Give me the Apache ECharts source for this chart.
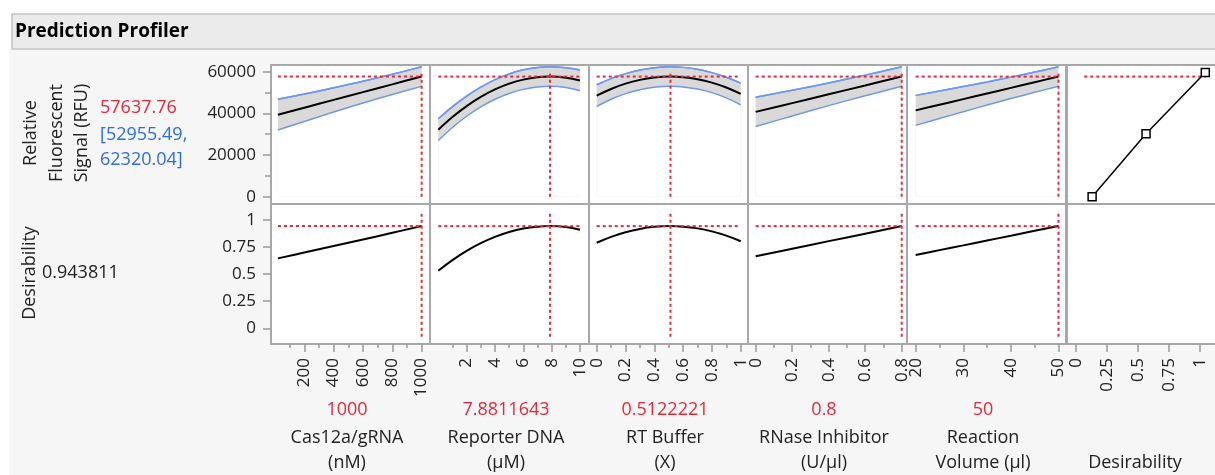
<!DOCTYPE html>
<html><head><meta charset="utf-8">
<script src="https://cdn.jsdelivr.net/npm/echarts@6/dist/echarts.min.js"></script>
<style>html,body{margin:0;padding:0;background:#fff;}#c{width:1215px;height:475px;}</style>
</head><body><div id="c"></div>
<script>
// ---------------- DATA ----------------
const titleText = 'Prediction Profiler';
const responseNameLines = ['Relative', 'Fluorescent', 'Signal (RFU)'];
const predictedText = '57637.76';
const ciTextLines = ['[52955.49,', '62320.04]'];
const predictedRFU = 57637.76;
const desirabilityName = 'Desirability';
const desirabilityText = '0.943811';
const desirabilityValue = 0.943811;

const factorNameLines = [['Cas12a/gRNA', '(nM)'], ['Reporter DNA', '(µM)'], ['RT Buffer', '(X)'], ['RNase Inhibitor', '(U/µl)'], ['Reaction', 'Volume (µl)']];
const factorCurrentText = ['1000', '7.8811643', '0.5122221', '0.8', '50'];
const factorCurrent = [1000, 7.8811643, 0.5122221, 0.8, 50];

// Cas12a/gRNA
const cas12aX = [20, 200, 400, 600, 800, 1000];
const cas12aMean = [39360, 42720, 46450, 50180, 53910, 57638];
const cas12aUpper = [46800, 49300, 52250, 55380, 58760, 62320];
const cas12aLower = [32000, 36100, 40650, 44980, 49060, 52955];
const cas12aDesir = [0.646, 0.700, 0.760, 0.820, 0.882, 0.944];
// Reporter DNA
const reporterX = [0, 1, 2, 3, 4, 5, 6, 7, 7.88, 9, 10];
const reporterMean = [32180, 38230, 43460, 47870, 51470, 54240, 56190, 57320, 57638, 57120, 55800];
const reporterUpper = [37380, 43230, 48310, 52620, 56170, 58920, 60870, 62000, 62318, 61870, 60800];
const reporterLower = [26980, 33230, 38610, 43120, 46770, 49560, 51510, 52640, 52958, 52370, 50800];
const reporterDesir = [0.532, 0.630, 0.715, 0.786, 0.844, 0.889, 0.921, 0.939, 0.944, 0.936, 0.910];
// RT Buffer
const rtX = [0, 0.1, 0.2, 0.3, 0.4, 0.512, 0.6, 0.7, 0.8, 0.9, 1];
const rtMean = [48500, 51700, 54250, 56070, 57200, 57638, 57370, 56400, 54740, 52380, 49300];
const rtUpper = [53700, 56650, 59050, 60790, 61890, 62318, 62060, 61120, 59540, 57330, 54500];
const rtLower = [43300, 46750, 49450, 51350, 52510, 52958, 52680, 51680, 49940, 47430, 44100];
const rtDesir = [0.790, 0.844, 0.887, 0.918, 0.937, 0.944, 0.939, 0.923, 0.895, 0.856, 0.804];
// RNase Inhibitor
const rnaseX = [0, 0.2, 0.4, 0.6, 0.8];
const rnaseMean = [40700, 44900, 49150, 53390, 57638];
const rnaseUpper = [47750, 51050, 54600, 58340, 62318];
const rnaseLower = [33650, 38750, 43700, 48440, 52958];
const rnaseDesir = [0.665, 0.735, 0.805, 0.874, 0.944];
// Reaction Volume
const volumeX = [20, 25, 30, 35, 40, 45, 50];
const volumeMean = [41420, 44120, 46830, 49530, 52230, 54940, 57638];
const volumeUpper = [48620, 50720, 52880, 55080, 57380, 59790, 62318];
const volumeLower = [34220, 37520, 40780, 43980, 47080, 50090, 52958];
const volumeDesir = [0.677, 0.722, 0.766, 0.811, 0.855, 0.900, 0.944];
// Desirability function (x = desirability, y = RFU)
const desFuncX = [0.13, 0.565, 1.043];
const desFuncY = [0, 30200, 59600];
const desFuncGuideX = [0.067, 1.05];

// guide spans (vertical extent of the red crosshair lines)
const rfuGuideSpan = [0, 59700];
const desGuideSpan = [-0.078, 1.067];

// tick labels
const rfuTicks = [0, 20000, 40000, 60000];
const rfuMinorTicks = [10000, 30000, 50000];
const desTicks = [0, 0.25, 0.5, 0.75, 1];
const xMajorTicks = [[200, 400, 600, 800, 1000], [2, 4, 6, 8, 10], [0, 0.2, 0.4, 0.6, 0.8, 1], [0, 0.2, 0.4, 0.6, 0.8], [20, 30, 40, 50], [0, 0.25, 0.5, 0.75, 1]];
const xMinorTicks = [[100, 300, 500, 700, 900], [1, 3, 5, 7, 9], [0.1, 0.3, 0.5, 0.7, 0.9], [0.1, 0.3, 0.5, 0.7], [25, 35, 45], []];

// ---------------- LAYOUT / STYLE ----------------
const FONT = '"Open Sans", "Noto Sans", sans-serif';
const RED = '#e3293c', BLUE = '#2f6ce8', BAND_LINE = '#6e98ea', BAND = '#d9d9d9', BORDER = '#a8a8a8';
const colLeft = [271, 430, 589, 748, 907, 1067];
const colW = 159;
const rowTop = [65, 204];
const rowH = [139, 140];
const xRanges = [[-27, 1057], [-0.586, 10.635], [-0.0535, 1.0507], [-0.042, 0.829], [18.18, 51.58], [-0.0726, 1.21]];
const yRanges = [[-3500, 63200], [-0.145, 1.148]];

const factors = [
  { x: cas12aX, mean: cas12aMean, up: cas12aUpper, lo: cas12aLower, d: cas12aDesir },
  { x: reporterX, mean: reporterMean, up: reporterUpper, lo: reporterLower, d: reporterDesir },
  { x: rtX, mean: rtMean, up: rtUpper, lo: rtLower, d: rtDesir },
  { x: rnaseX, mean: rnaseMean, up: rnaseUpper, lo: rnaseLower, d: rnaseDesir },
  { x: volumeX, mean: volumeMean, up: volumeUpper, lo: volumeLower, d: volumeDesir }
];
const zip = (a, b) => a.map((v, i) => [v, b[i]]);
const fmt = v => String(v);

const grids = [], xAxes = [], yAxes = [], series = [];
for (let r = 0; r < 2; r++) {
  for (let c = 0; c < 6; c++) {
    const g = r * 6 + c;
    grids.push({ left: colLeft[c], top: rowTop[r], width: colW, height: rowH[r], show: true,
      backgroundColor: '#ffffff', borderColor: BORDER, borderWidth: 2, containLabel: false, outerBoundsMode: 'none' });
    xAxes.push({ type: 'value', gridIndex: g, min: xRanges[c][0], max: xRanges[c][1], show: r === 1,
      splitLine: { show: false },
      axisLine: { show: true, onZero: false, lineStyle: { color: BORDER, width: 2 } },
      axisTick: { show: true, customValues: xMajorTicks[c], length: 8, lineStyle: { color: '#9a9a9a', width: 1.5 } },
      axisLabel: { show: true, customValues: xMajorTicks[c], rotate: 90, fontSize: 17, fontFamily: FONT, color: '#222', margin: 14, formatter: fmt } });
    yAxes.push({ type: 'value', gridIndex: g, min: yRanges[r][0], max: yRanges[r][1], show: c === 0,
      splitLine: { show: false },
      axisLine: { show: true, onZero: false, lineStyle: { color: BORDER, width: 2 } },
      axisTick: { show: true, customValues: r === 0 ? rfuTicks : desTicks, length: 8, lineStyle: { color: '#9a9a9a', width: 1.5 } },
      axisLabel: { show: true, customValues: r === 0 ? rfuTicks : desTicks, fontSize: 17, fontFamily: FONT, color: '#222', margin: 15, formatter: fmt } });
  }
}
// minor tick axes
for (let c = 0; c < 5; c++) {
  xAxes.push({ type: 'value', gridIndex: 6 + c, min: xRanges[c][0], max: xRanges[c][1], position: 'bottom',
    splitLine: { show: false }, axisLine: { show: false, onZero: false }, axisLabel: { show: false },
    axisTick: { show: true, customValues: xMinorTicks[c], length: 4, lineStyle: { color: '#9a9a9a', width: 1.5 } } });
}
yAxes.push({ type: 'value', gridIndex: 0, min: yRanges[0][0], max: yRanges[0][1], position: 'left',
  splitLine: { show: false }, axisLine: { show: false, onZero: false }, axisLabel: { show: false },
  axisTick: { show: true, customValues: rfuMinorTicks, length: 6, lineStyle: { color: '#9a9a9a', width: 1.5 } } });

const redLine = (xi, yi, data) => ({ type: 'line', xAxisIndex: xi, yAxisIndex: yi, data, symbol: 'none', silent: true, z: 5,
  lineStyle: { color: RED, width: 2, type: [3, 3] } });
const SM = 0.4;

factors.forEach((f, c) => {
  const t = c, b = 6 + c;
  // band: gray area under the upper curve, masked by white area under the lower curve
  series.push({ type: 'line', xAxisIndex: t, yAxisIndex: t, data: zip(f.x, f.up), symbol: 'none', smooth: SM,
    lineStyle: { color: BAND_LINE, width: 1.5 }, areaStyle: { color: BAND, opacity: 1, origin: 0 }, silent: true, z: 1 });
  series.push({ type: 'line', xAxisIndex: t, yAxisIndex: t, data: zip(f.x, f.lo), symbol: 'none', smooth: SM,
    lineStyle: { color: BAND_LINE, width: 1.5 }, areaStyle: { color: '#ffffff', opacity: 1, origin: 0 }, silent: true, z: 2 });
  series.push({ type: 'line', xAxisIndex: t, yAxisIndex: t, data: zip(f.x, f.up), symbol: 'none', smooth: SM, lineStyle: { color: BAND_LINE, width: 1.5 }, z: 2 });
  series.push({ type: 'line', xAxisIndex: t, yAxisIndex: t, data: zip(f.x, f.mean), symbol: 'none', smooth: SM, lineStyle: { color: '#000', width: 2 }, z: 3 });
  series.push(redLine(t, t, [[f.x[0], predictedRFU], [f.x[f.x.length - 1], predictedRFU]]));
  series.push(redLine(t, t, [[factorCurrent[c], rfuGuideSpan[0]], [factorCurrent[c], rfuGuideSpan[1]]]));
  series.push({ type: 'line', xAxisIndex: b, yAxisIndex: b, data: zip(f.x, f.d), symbol: 'none', smooth: SM, lineStyle: { color: '#000', width: 2 }, z: 3 });
  series.push(redLine(b, b, [[f.x[0], desirabilityValue], [f.x[f.x.length - 1], desirabilityValue]]));
  series.push(redLine(b, b, [[factorCurrent[c], desGuideSpan[0]], [factorCurrent[c], desGuideSpan[1]]]));
});
series.push(redLine(5, 5, [[desFuncGuideX[0], predictedRFU], [desFuncGuideX[1], predictedRFU]]));
series.push({ type: 'line', xAxisIndex: 5, yAxisIndex: 5, data: zip(desFuncX, desFuncY), symbol: 'rect', symbolSize: 8, showSymbol: true, clip: false,
  itemStyle: { color: '#fff', borderColor: '#000', borderWidth: 1.5 }, lineStyle: { color: '#000', width: 1.5 }, z: 6 });

// text
const T = (x, y, text, o = {}) => ({ type: 'text', x, y, rotation: o.rot || 0, z: 100,
  style: { text, fontSize: o.size || 18, fontFamily: FONT, fontWeight: o.weight || 'normal', fill: o.color || '#222',
    align: o.align || 'center', verticalAlign: 'middle' } });
const graphics = [
  { type: 'rect', z: -10, shape: { x: 9, y: 49, width: 1220, height: 430 }, style: { fill: '#f6f6f6' } },
  { type: 'rect', z: -9, shape: { x: 12, y: 14, width: 1220, height: 35 }, style: { fill: '#ebebeb', stroke: '#c4c4c4', lineWidth: 1.5 } },
  T(15, 32, titleText, { size: 19, weight: 'bold', align: 'left', color: '#000' }),
  T(31, 133, responseNameLines[0], { rot: Math.PI / 2 }),
  T(57, 133, responseNameLines[1], { rot: Math.PI / 2 }),
  T(82, 133, responseNameLines[2], { rot: Math.PI / 2 }),
  T(100, 108, predictedText, { align: 'left', color: RED }),
  T(100, 135, ciTextLines[0], { align: 'left', color: BLUE }),
  T(100, 160, ciTextLines[1], { align: 'left', color: BLUE }),
  T(30, 273, desirabilityName, { rot: Math.PI / 2 }),
  T(42, 273, desirabilityText, { align: 'left' })
];
factorNameLines.forEach((lines, c) => {
  const cx = colLeft[c] + colW / 2 - 3.5;
  graphics.push(T(cx, 410, factorCurrentText[c], { color: RED }));
  graphics.push(T(cx, 438, lines[0]));
  graphics.push(T(cx, 463, lines[1]));
});
graphics.push(T(1135, 463, desirabilityName));

const chart = echarts.init(document.getElementById('c'), null, { renderer: 'canvas' });
chart.setOption({ animation: false, backgroundColor: '#ffffff', grid: grids, xAxis: xAxes, yAxis: yAxes, series, graphic: { elements: graphics } });
</script></body></html>
